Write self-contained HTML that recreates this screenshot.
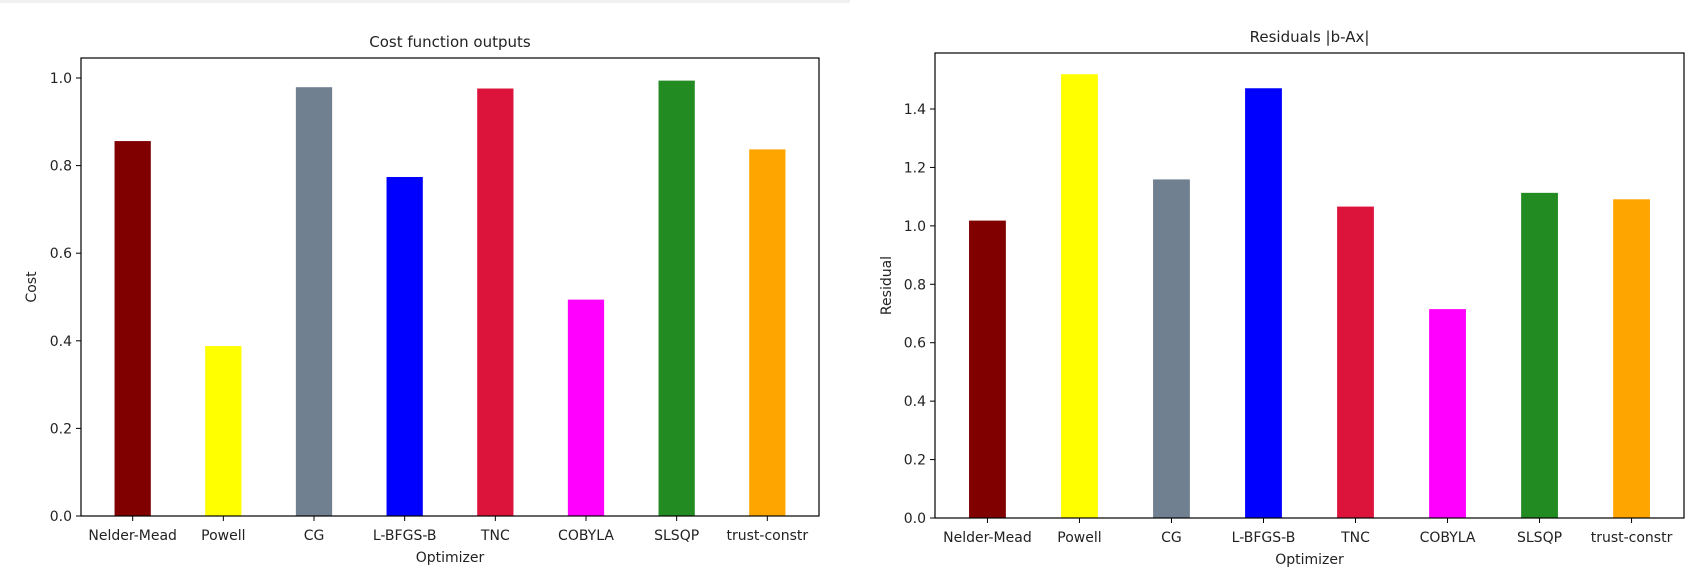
<!DOCTYPE html>
<html><head><meta charset="utf-8"><style>
html,body{margin:0;padding:0;background:#fff;}
svg{display:block;font-family:"DejaVu Sans","Liberation Sans",sans-serif;}
</style></head><body>
<svg id="c" width="1708" height="571">
<rect x="0" y="0" width="850" height="3" fill="#f0f0f0"/>
</svg>
<script>
const categories=["Nelder-Mead","Powell","CG","L-BFGS-B","TNC","COBYLA","SLSQP","trust-constr"];
const colors=["#800000","#ffff00","#708090","#0000ff","#dc143c","#ff00ff","#228b22","#ffa500"];
const costValues=[0.856,0.388,0.979,0.774,0.976,0.494,0.994,0.837];
const residualValues=[1.018,1.519,1.159,1.471,1.066,0.715,1.113,1.091];
const costTicks=[0.0,0.2,0.4,0.6,0.8,1.0];
const residualTicks=[0.0,0.2,0.4,0.6,0.8,1.0,1.2,1.4];
const NS="http://www.w3.org/2000/svg";
const svg=document.getElementById('c');
function mk(t,a,p){const e=document.createElementNS(NS,t);for(const k in a)e.setAttribute(k,a[k]);(p||svg).appendChild(e);return e;}
function chart(o){
  const g=mk('g',{});
  
  
  const n=categories.length;
  const span=(n-1+0.4)*1.1;const x0=-0.2-(n-1+0.4)*0.05;
  const X=v=>o.l+(v-x0)/span*(o.r-o.l);
  const Y=v=>o.b-(v-0)/(o.vt-0)*(o.b-o.yt);
  const unit=(o.r-o.l)/span;
  o.vals.forEach((v,i)=>{
    const r=mk('rect',{x:X(i)-0.2*unit,y:Y(v),width:0.4*unit,height:o.b-Y(v),fill:colors[i]},g);
    
    
  });
  const ax=mk('rect',{x:o.l,y:o.t,width:o.r-o.l,height:o.b-o.t,fill:'none',stroke:'#000','stroke-width':1.2},g);
  
  
  o.ticks.forEach(v=>{
    const y=Y(v);
    mk('line',{x1:o.l-5,x2:o.l,y1:y,y2:y,stroke:'#000','stroke-width':1},g);
    const t=mk('text',{x:o.l-9,y:y+5,'text-anchor':'end','font-size':14,fill:'#222'},g);
    t.textContent=v.toFixed(1);
    
    
  });
  categories.forEach((c,i)=>{
    const x=X(i);
    mk('line',{x1:x,x2:x,y1:o.b,y2:o.b+5,stroke:'#000','stroke-width':1},g);
    const t=mk('text',{x:x,y:o.b+24,'text-anchor':'middle','font-size':14,fill:'#222'},g);
    t.textContent=c;
    
    
  });
  const ti=mk('text',{x:(o.l+o.r)/2,y:o.t-11,'text-anchor':'middle','font-size':15,fill:'#222'},g);
  ti.textContent=o.title;
  
  
  const xl=mk('text',{x:(o.l+o.r)/2,y:o.b+46,'text-anchor':'middle','font-size':14,fill:'#222'},g);
  xl.textContent='Optimizer';
  
  
  const yx=o.ylx, yy=(o.t+o.b)/2;
  const yl=mk('text',{x:yx,y:yy,'text-anchor':'middle','font-size':14,fill:'#222',transform:`rotate(-90 ${yx} ${yy})`},g);
  yl.textContent=o.ylabel;
  
  
}
chart({name:'cost-chart',l:81,r:819,t:58,b:516,yt:78,vt:1.0,vals:costValues,ticks:costTicks,title:'Cost function outputs',ylabel:'Cost',ylx:36});
chart({name:'residual-chart',l:935,r:1684,t:53,b:518,yt:109,vt:1.4,vals:residualValues,ticks:residualTicks,title:'Residuals |b-Ax|',ylabel:'Residual',ylx:891});
</script>
</body></html>
